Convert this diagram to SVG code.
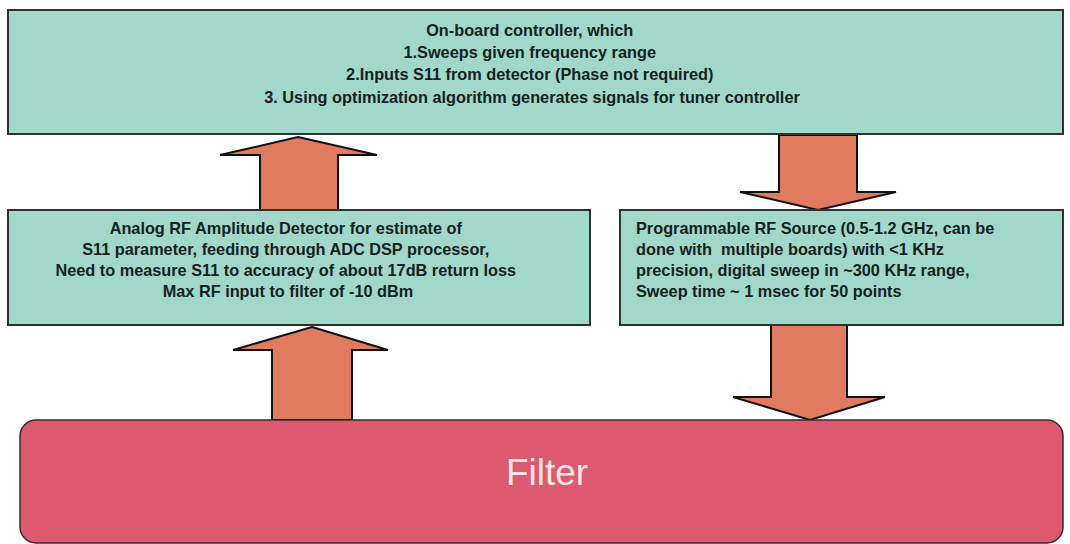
<svg xmlns="http://www.w3.org/2000/svg" width="1070" height="544" viewBox="0 0 1070 544">
  <style>
    .box { fill: #a2d8c9; stroke: #2a3431; stroke-width: 2; }
    .txt { font-family: "Liberation Sans", Arial, sans-serif; font-weight: bold; font-size: 16.3px; fill: #15221f; }
    .arrow { fill: #e07b5f; stroke: #111; stroke-width: 2; stroke-linejoin: miter; }
    .filter { fill: #dd5970; stroke: #3a2a2d; stroke-width: 1.5; }
    .ftxt { font-family: "Liberation Sans", Arial, sans-serif; font-size: 37px; fill: #f7e4e8; }
  </style>
  <rect width="1070" height="544" fill="#ffffff"/>

  <!-- connectors: block arrows -->
  <g id="connectors">
    <path class="arrow" d="M298,137 L377,155 L338,155 L338,210 L260,210 L260,155 L220,155 Z"/>
    <path class="arrow" d="M779,135 L857,135 L857,192 L896,192 L818,210 L740,192 L779,192 Z"/>
    <path class="arrow" d="M312,327 L388,350 L352,350 L352,420 L272,420 L272,350 L233,350 Z"/>
    <path class="arrow" d="M771,325 L847,325 L847,397 L885,397 L810,420 L733,397 L771,397 Z"/>
  </g>

  <g id="controller">
    <rect class="box" x="8" y="10" width="1055" height="124"/>
    <text class="txt" text-anchor="middle">
      <tspan x="532" y="36">On-board controller, which</tspan>
      <tspan x="532" y="58">1.Sweeps given frequency range</tspan>
      <tspan x="532" y="80">2.Inputs S11 from detector (Phase not required)</tspan>
      <tspan x="532" y="103">3. Using optimization algorithm generates signals for tuner controller</tspan>
    </text>
  </g>

  <g id="detector">
    <rect class="box" x="8" y="210" width="582" height="115"/>
    <text class="txt" text-anchor="middle">
      <tspan x="288" y="234">Analog RF Amplitude Detector for estimate of</tspan>
      <tspan x="288" y="255">S11 parameter, feeding through ADC DSP processor,</tspan>
      <tspan x="288" y="276">Need to measure S11 to accuracy of about 17dB return loss</tspan>
      <tspan x="288" y="297">Max RF input to filter of -10 dBm</tspan>
    </text>
  </g>

  <g id="source">
    <rect class="box" x="620" y="210" width="443" height="115"/>
    <text class="txt">
      <tspan x="636" y="234">Programmable RF Source (0.5-1.2 GHz, can be</tspan>
      <tspan x="636" y="255">done with&#160; multiple boards) with &lt;1 KHz</tspan>
      <tspan x="636" y="276">precision, digital sweep in ~300 KHz range,</tspan>
      <tspan x="636" y="297">Sweep time ~ 1 msec for 50 points</tspan>
    </text>
  </g>

  <g id="filter">
    <rect class="filter" x="20" y="420" width="1043" height="123" rx="16"/>
    <text class="ftxt" x="547" y="485" text-anchor="middle">Filter</text>
  </g>
</svg>
